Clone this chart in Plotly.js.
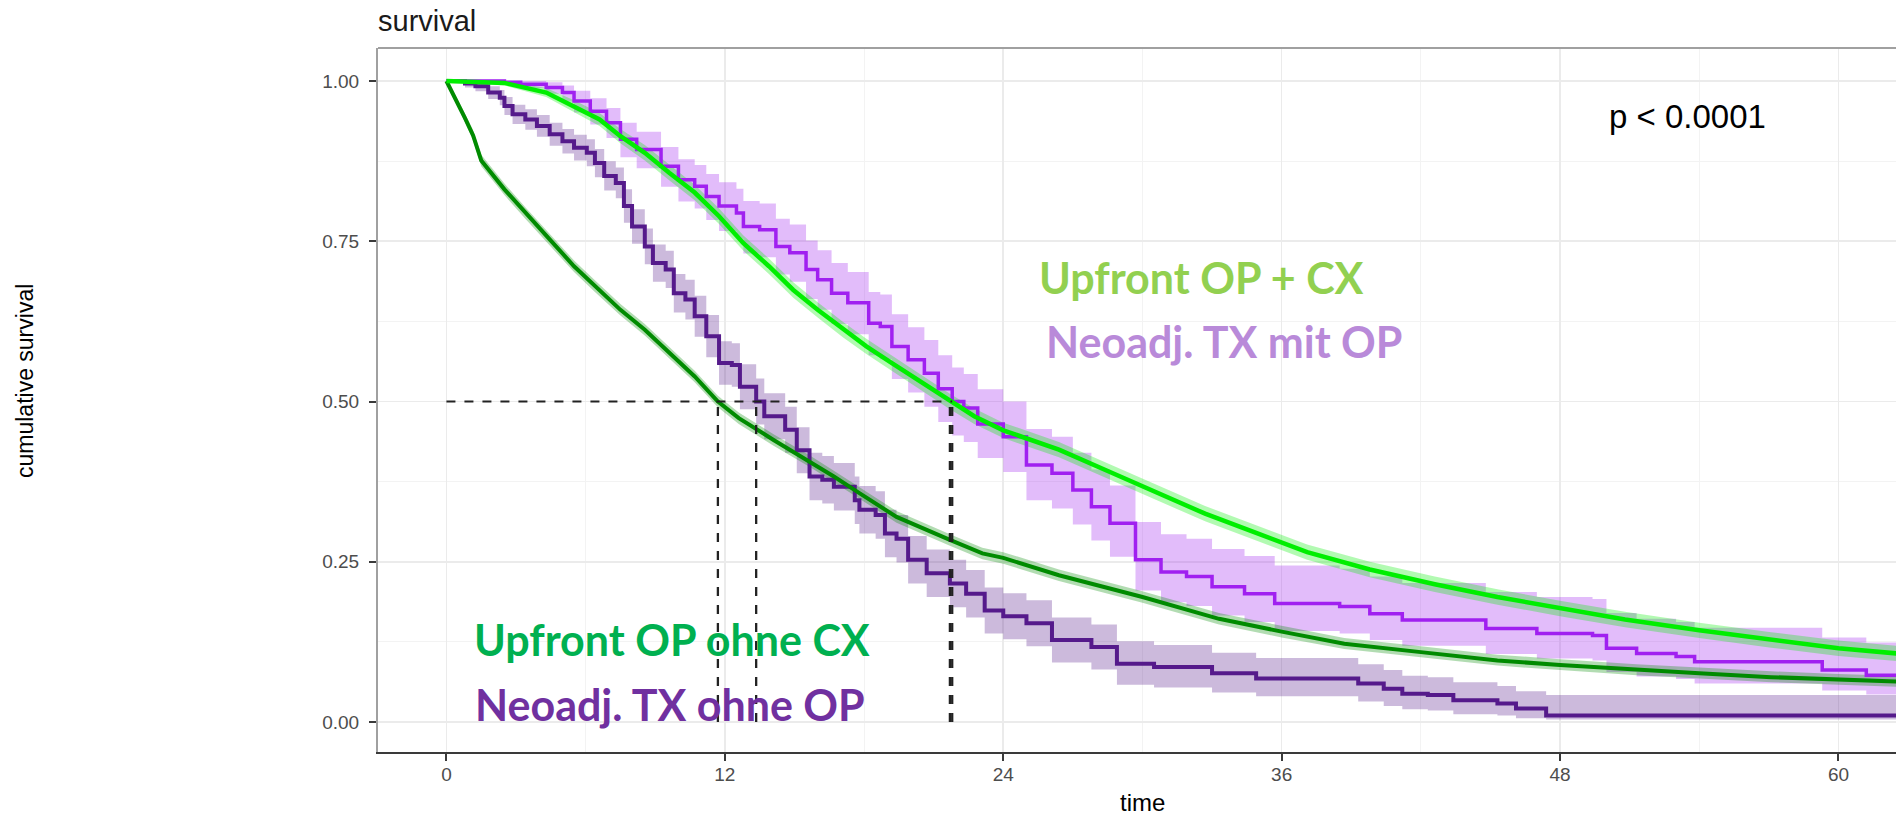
<!DOCTYPE html>
<html>
<head>
<meta charset="utf-8">
<script src="https://cdn.plot.ly/plotly-3.0.1.min.js"></script>
<style>html,body{margin:0;padding:0;background:#fff;}#chart{width:1896px;height:817px;}</style>
</head>
<body>
<div id="chart"></div>
<script>
// ---------- data ----------
// Upfront OP ohne CX (dark green)
const tA = [0, 0.4, 0.8, 1.15, 1.5, 2.5, 3.4, 4.45, 5.5, 6.4, 7.5, 8.55, 9.6, 10.7, 11.7, 12.6, 14.1, 15.7, 16.7, 17.8, 19.4, 21.7, 23.1, 24, 26.4, 30, 33.3, 36, 38.7, 42, 45.3, 48, 51.3, 54, 57.1, 60, 62.5];
const sA = [1, 0.972, 0.942, 0.915, 0.876, 0.831, 0.794, 0.753, 0.711, 0.680, 0.643, 0.612, 0.576, 0.539, 0.500, 0.474, 0.440, 0.406, 0.383, 0.357, 0.320, 0.284, 0.263, 0.256, 0.229, 0.195, 0.161, 0.141, 0.122, 0.109, 0.096, 0.089, 0.081, 0.076, 0.070, 0.066, 0.063];
const uA = [1, 0.977, 0.949, 0.923, 0.885, 0.840, 0.803, 0.762, 0.720, 0.689, 0.652, 0.621, 0.585, 0.548, 0.509, 0.483, 0.449, 0.415, 0.392, 0.366, 0.329, 0.293, 0.272, 0.265, 0.238, 0.204, 0.170, 0.150, 0.131, 0.118, 0.105, 0.098, 0.090, 0.085, 0.079, 0.075, 0.072];
const lA = [1, 0.967, 0.935, 0.907, 0.867, 0.822, 0.785, 0.744, 0.702, 0.671, 0.634, 0.603, 0.567, 0.530, 0.491, 0.465, 0.431, 0.397, 0.374, 0.348, 0.311, 0.275, 0.254, 0.247, 0.220, 0.186, 0.152, 0.132, 0.114, 0.101, 0.088, 0.081, 0.073, 0.068, 0.062, 0.058, 0.055];

// Upfront OP + CX (bright green)
const tC = [0, 2.5, 4.3, 5.5, 6.6, 7.5, 8.55, 9.6, 10.7, 11.75, 12.8, 13.9, 14.95, 16.0, 17.1, 18.1, 19.2, 20.3, 21.7, 22.75, 24, 26.4, 28.6, 30.5, 32.7, 34.9, 37.1, 39.8, 42.6, 45.3, 48, 50.8, 54, 57.1, 60, 62.5];
const sC = [1, 0.997, 0.982, 0.961, 0.940, 0.914, 0.888, 0.857, 0.826, 0.789, 0.747, 0.711, 0.674, 0.643, 0.612, 0.586, 0.560, 0.534, 0.500, 0.477, 0.455, 0.425, 0.390, 0.360, 0.325, 0.295, 0.265, 0.238, 0.215, 0.195, 0.177, 0.160, 0.143, 0.128, 0.115, 0.107];
const uC = [1, 1.000, 0.989, 0.970, 0.950, 0.925, 0.900, 0.869, 0.838, 0.801, 0.759, 0.723, 0.686, 0.655, 0.624, 0.598, 0.572, 0.546, 0.512, 0.489, 0.467, 0.437, 0.402, 0.372, 0.337, 0.307, 0.277, 0.250, 0.227, 0.207, 0.189, 0.172, 0.155, 0.140, 0.127, 0.119];
const lC = [1, 0.993, 0.975, 0.952, 0.930, 0.903, 0.876, 0.845, 0.814, 0.777, 0.735, 0.699, 0.662, 0.631, 0.600, 0.574, 0.548, 0.522, 0.488, 0.465, 0.443, 0.413, 0.378, 0.348, 0.313, 0.283, 0.253, 0.226, 0.203, 0.183, 0.165, 0.148, 0.131, 0.116, 0.103, 0.095];

// Neoadj. TX ohne OP (dark purple)
const tB = [0, 0.8, 1.25, 1.8, 2.3, 2.5, 2.85, 3.4, 3.9, 4.45, 5.0, 5.5, 6.05, 6.4, 6.8, 7.3, 7.65, 8.0, 8.55, 8.9, 9.45, 9.8, 10.3, 10.7, 11.2, 11.75, 12.3, 12.65, 13.35, 13.7, 14.6, 15.1, 15.65, 16.2, 16.7, 17.6, 17.8, 18.5, 18.9, 19.4, 19.9, 20.7, 21.7, 22.4, 23.2, 24.0, 25.0, 26.1, 27.8, 28.9, 30.5, 33.0, 34.9, 39.3, 40.4, 41.2, 42.3, 43.4, 45.3, 46.1, 47.4, 62.5];
const sB = [1, 0.996, 0.992, 0.982, 0.974, 0.961, 0.948, 0.940, 0.930, 0.917, 0.906, 0.896, 0.888, 0.872, 0.852, 0.841, 0.805, 0.773, 0.742, 0.716, 0.706, 0.669, 0.659, 0.633, 0.602, 0.560, 0.557, 0.523, 0.500, 0.477, 0.456, 0.424, 0.383, 0.378, 0.367, 0.346, 0.331, 0.323, 0.294, 0.286, 0.253, 0.232, 0.216, 0.200, 0.174, 0.165, 0.154, 0.128, 0.117, 0.091, 0.086, 0.076, 0.068, 0.060, 0.052, 0.044, 0.042, 0.034, 0.029, 0.021, 0.010, 0.010];
const uB = [1, 1.000, 0.998, 0.992, 0.986, 0.975, 0.963, 0.956, 0.947, 0.935, 0.925, 0.916, 0.909, 0.894, 0.875, 0.865, 0.831, 0.800, 0.770, 0.745, 0.735, 0.699, 0.690, 0.665, 0.635, 0.594, 0.591, 0.558, 0.536, 0.513, 0.492, 0.460, 0.420, 0.415, 0.404, 0.383, 0.368, 0.360, 0.331, 0.323, 0.290, 0.269, 0.253, 0.237, 0.210, 0.201, 0.190, 0.163, 0.152, 0.126, 0.120, 0.108, 0.100, 0.090, 0.081, 0.072, 0.070, 0.062, 0.056, 0.048, 0.042, 0.042];
const lB = [1, 0.990, 0.984, 0.972, 0.962, 0.947, 0.933, 0.924, 0.913, 0.899, 0.887, 0.876, 0.867, 0.850, 0.829, 0.817, 0.779, 0.746, 0.714, 0.687, 0.677, 0.639, 0.628, 0.601, 0.569, 0.526, 0.523, 0.488, 0.464, 0.441, 0.420, 0.388, 0.346, 0.341, 0.330, 0.309, 0.294, 0.286, 0.257, 0.249, 0.216, 0.195, 0.179, 0.163, 0.138, 0.129, 0.118, 0.093, 0.082, 0.058, 0.054, 0.046, 0.040, 0.032, 0.025, 0.020, 0.018, 0.012, 0.010, 0.006, 0.004, 0.004];

// Neoadj. TX mit OP (violet)
const tD = [0, 2.5, 3.2, 4.3, 5.0, 5.5, 6.2, 6.9, 7.5, 8.2, 9.25, 10.0, 10.7, 11.2, 11.75, 12.5, 12.8, 13.5, 14.2, 14.8, 15.5, 16.0, 16.6, 17.3, 18.2, 18.7, 19.2, 19.9, 20.6, 21.2, 21.8, 22.3, 22.9, 24.0, 25.0, 26.1, 27.0, 27.8, 28.6, 29.7, 30.8, 31.9, 33.0, 34.4, 35.7, 38.5, 39.8, 41.2, 44.8, 47.0, 49.4, 50.0, 51.3, 53.0, 53.8, 59.3, 61.2, 62.5];
const sD = [1, 0.998, 0.995, 0.990, 0.982, 0.969, 0.953, 0.935, 0.909, 0.893, 0.867, 0.846, 0.836, 0.820, 0.805, 0.794, 0.773, 0.768, 0.742, 0.732, 0.706, 0.690, 0.669, 0.654, 0.622, 0.617, 0.586, 0.565, 0.544, 0.520, 0.500, 0.490, 0.465, 0.445, 0.401, 0.388, 0.362, 0.336, 0.310, 0.253, 0.234, 0.227, 0.211, 0.200, 0.185, 0.180, 0.169, 0.159, 0.146, 0.138, 0.135, 0.115, 0.107, 0.102, 0.094, 0.081, 0.073, 0.073];
const uD = [1, 1.000, 1.000, 0.998, 0.993, 0.985, 0.973, 0.958, 0.935, 0.921, 0.897, 0.878, 0.869, 0.855, 0.842, 0.832, 0.813, 0.809, 0.785, 0.776, 0.751, 0.736, 0.716, 0.702, 0.671, 0.667, 0.636, 0.616, 0.596, 0.572, 0.553, 0.543, 0.519, 0.500, 0.457, 0.445, 0.420, 0.394, 0.369, 0.312, 0.293, 0.286, 0.270, 0.259, 0.244, 0.239, 0.227, 0.217, 0.203, 0.195, 0.192, 0.170, 0.161, 0.156, 0.147, 0.132, 0.124, 0.124];
const lD = [1, 0.994, 0.989, 0.980, 0.968, 0.951, 0.932, 0.911, 0.881, 0.864, 0.835, 0.812, 0.801, 0.783, 0.766, 0.754, 0.731, 0.725, 0.698, 0.687, 0.660, 0.643, 0.621, 0.605, 0.572, 0.566, 0.535, 0.514, 0.492, 0.468, 0.447, 0.437, 0.412, 0.390, 0.346, 0.333, 0.308, 0.283, 0.258, 0.205, 0.187, 0.181, 0.166, 0.156, 0.142, 0.138, 0.128, 0.119, 0.106, 0.099, 0.096, 0.078, 0.071, 0.067, 0.060, 0.049, 0.043, 0.043];

// median survival times (dashed reference lines)
const medianTimes = [11.7, 13.35, 21.7, 21.8];
const medianLevel = 0.5;

// tick labels
const xTicks = [0, 12, 24, 36, 48, 60];
const xTickText = ["0", "12", "24", "36", "48", "60"];
const yTicks = [0, 0.25, 0.5, 0.75, 1];
const yTickText = ["0.00", "0.25", "0.50", "0.75", "1.00"];

// text labels
const groupLabels = ["Upfront OP + CX", "Neoadj. TX mit OP", "Upfront OP ohne CX", "Neoadj. TX ohne OP"];
const labelX = [25.45, 25.75, 1.08, 1.15];
const labelY = [0.693, 0.594, 0.128, 0.028];
const labelColors = ["#92d050", "#b98ad9", "#00b050", "#7030a0"];
const pText = "p < 0.0001";

// ---------- traces ----------
function band(t, lo, up, shape, fill) {
  return [
    {x: t, y: lo, mode: 'lines', line: {width: 0, shape: shape}, hoverinfo: 'skip', showlegend: false},
    {x: t, y: up, mode: 'lines', line: {width: 0, shape: shape}, fill: 'tonexty', fillcolor: fill, hoverinfo: 'skip', showlegend: false}
  ];
}
function curve(t, s, shape, color, w, name) {
  return {x: t, y: s, mode: 'lines', name: name, line: {color: color, width: w, shape: shape}, showlegend: false};
}

const colA = '#008b00', colB = '#551a8b', colC = '#00ee00', colD = '#a020f0';

let data = [];
data = data.concat(band(tB, lB, uB, 'hv', 'rgba(85,26,139,0.3)'));
data = data.concat(band(tD, lD, uD, 'hv', 'rgba(160,32,240,0.3)'));
data = data.concat(band(tA, lA, uA, 'linear', 'rgba(0,139,0,0.3)'));
data = data.concat(band(tC, lC, uC, 'linear', 'rgba(0,238,0,0.3)'));
data.push(curve(tB, sB, 'hv', colB, 4, groupLabels[3]));
data.push(curve(tD, sD, 'hv', colD, 3.5, groupLabels[1]));
data.push(curve(tA, sA, 'linear', colA, 4, groupLabels[2]));
data.push(curve(tC, sC, 'linear', colC, 4.5, groupLabels[0]));

// median lines
const maxMed = Math.max.apply(null, medianTimes);
data.push({x: [0, maxMed], y: [medianLevel, medianLevel], mode: 'lines',
  line: {color: '#222', width: 2, dash: 'dash'}, hoverinfo: 'skip', showlegend: false});
medianTimes.forEach(m => {
  data.push({x: [m, m], y: [0, medianLevel], mode: 'lines',
    line: {color: '#222', width: 2.3, dash: 'dash'}, hoverinfo: 'skip', showlegend: false});
});

// ---------- layout ----------
const W = 1896, H = 817, ML = 378, MT = 48, MB = 65;
const plotW = W - ML, plotH = H - MT - MB;
const baseFont = 'Liberation Sans, Arial, sans-serif';
const labFont = 'Lato, Carlito, Calibri, sans-serif';

const annotations = groupLabels.map((g, i) => ({
  x: labelX[i], y: labelY[i], xref: 'x', yref: 'y', text: '<b>' + g + '</b>',
  showarrow: false, xanchor: 'left', yanchor: 'middle',
  font: {family: labFont, size: 43, color: labelColors[i]}
}));
annotations.push({x: 53.5, y: 0.945, xref: 'x', yref: 'y', text: pText, showarrow: false,
  xanchor: 'center', yanchor: 'middle', font: {family: baseFont, size: 33, color: '#000'}});
annotations.push({x: (1142 - ML) / plotW, y: -(802 - (MT + plotH)) / plotH, xref: 'paper', yref: 'paper',
  text: 'time', showarrow: false, xanchor: 'center', yanchor: 'middle',
  font: {family: baseFont, size: 24, color: '#000'}});
annotations.push({x: (25 - ML) / plotW, y: ((MT + plotH) - 381) / plotH, xref: 'paper', yref: 'paper',
  text: 'cumulative survival', textangle: -90, showarrow: false, xanchor: 'center', yanchor: 'middle',
  font: {family: baseFont, size: 23, color: '#000'}});

const layout = {
  width: W, height: H,
  margin: {l: ML, r: 0, t: MT, b: MB, pad: 0},
  paper_bgcolor: '#ffffff', plot_bgcolor: '#ffffff',
  showlegend: false,
  title: {text: 'survival', x: 0, xref: 'paper', xanchor: 'left', y: 1 - 21 / H, yref: 'container', yanchor: 'middle',
    font: {family: baseFont, size: 29, color: '#1a1a1a'}},
  xaxis: {
    range: [-2.95, 62.48], tickvals: xTicks, ticktext: xTickText,
    showgrid: true, gridcolor: '#ebebeb', gridwidth: 1.6, zeroline: false,
    minor: {dtick: 6, tick0: 0, showgrid: true, gridcolor: '#f3f3f3', gridwidth: 1, ticks: ''},
    showline: true, linecolor: '#3a3a3a', linewidth: 2,
    ticks: 'outside', ticklen: 7, tickwidth: 2, tickcolor: '#3a3a3a',
    ticklabelstandoff: -3,
    tickfont: {family: baseFont, size: 19, color: '#4d4d4d'}
  },
  yaxis: {
    range: [-0.0468, 1.0515], tickvals: yTicks, ticktext: yTickText,
    showgrid: true, gridcolor: '#ebebeb', gridwidth: 1.6, zeroline: false,
    minor: {dtick: 0.125, tick0: 0, showgrid: true, gridcolor: '#f3f3f3', gridwidth: 1, ticks: ''},
    showline: true, linecolor: '#a0a0a0', linewidth: 2,
    ticks: 'outside', ticklen: 7, tickwidth: 2, tickcolor: '#3a3a3a',
    ticklabelstandoff: 6,
    tickfont: {family: baseFont, size: 19, color: '#4d4d4d'}
  },
  shapes: [{type: 'line', xref: 'paper', yref: 'paper', x0: 0, x1: 1, y0: 1, y1: 1,
    line: {color: '#a0a0a0', width: 2}}],
  annotations: annotations
};

Plotly.newPlot('chart', data, layout, {displayModeBar: false, staticPlot: true});
</script>
</body>
</html>
